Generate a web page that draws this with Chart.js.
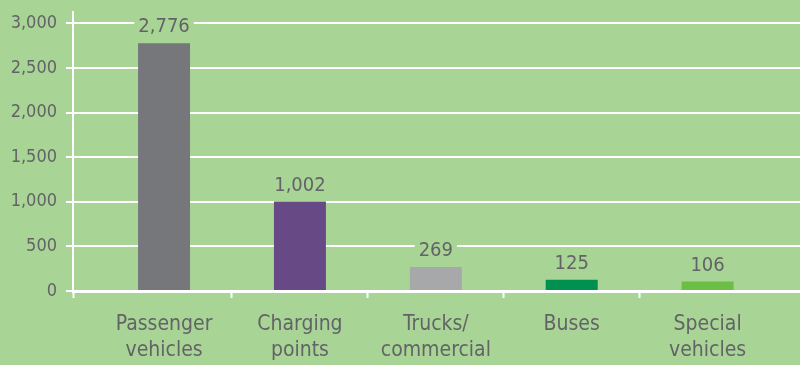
<!DOCTYPE html>
<html>
<head>
<meta charset="utf-8">
<style>
  html, body { margin: 0; padding: 0; background: #a8d596; }
  #wrap { width: 800px; height: 365px; }
</style>
<script src="https://cdn.jsdelivr.net/npm/chart.js@4/dist/chart.umd.min.js"></script>
</head>
<body>
<div id="wrap"><canvas id="c" width="800" height="365"></canvas></div>
<script>
// Vehicle counts by type
const categories = [
  ['Passenger', 'vehicles'],
  ['Charging', 'points'],
  ['Trucks/', 'commercial'],
  ['Buses'],
  ['Special', 'vehicles']
];
const counts = [2776, 1002, 269, 125, 106];
const barColors = ['#76777b', '#674a85', '#a7a8aa', '#009150', '#6dbe45'];
const yTicks = [0, 500, 1000, 1500, 2000, 2500, 3000];

const BG = '#a8d596';
const TEXT = '#636367';
const FONT = "'DejaVu Sans Condensed', 'Liberation Sans Narrow', sans-serif";

// Bars sit on integer positions of a linear x scale; divider marks go halfway between.
const points = counts.map((v, i) => ({ x: i, y: v }));
const xMin = -0.67, xMax = 4.68;
const xTickValues = [xMin];
categories.forEach((_, i) => { xTickValues.push(i); if (i < categories.length - 1) xTickValues.push(i + 0.5); });

const fmt = n => n.toLocaleString('en-US');

// Value labels above bars, on a background-coloured patch that breaks the grid line
const valueLabels = {
  id: 'valueLabels',
  afterDatasetsDraw(chart) {
    const ctx = chart.ctx;
    const meta = chart.getDatasetMeta(0);
    ctx.save();
    ctx.font = "20px " + FONT;
    ctx.textAlign = 'center';
    ctx.textBaseline = 'alphabetic';
    meta.data.forEach((bar, i) => {
      const txt = fmt(counts[i]);
      const w = ctx.measureText(txt).width;
      const base = bar.y - 11;
      ctx.fillStyle = BG;
      ctx.fillRect(bar.x - w / 2 - 4, base - 18, w + 8, 22);
      ctx.fillStyle = TEXT;
      ctx.fillText(txt, bar.x, base);
    });
    ctx.restore();
  }
};

new Chart(document.getElementById('c'), {
  type: 'bar',
  data: {
    datasets: [{
      data: points,
      backgroundColor: barColors,
      borderWidth: 0,
      barPercentage: 0.765,
      categoryPercentage: 1
    }]
  },
  options: {
    responsive: false,
    animation: false,
    events: [],
    layout: { padding: { top: 1, right: 0, left: 0, bottom: 0 } },
    plugins: { legend: { display: false }, tooltip: { enabled: false } },
    scales: {
      x: {
        type: 'linear',
        offset: false,
        min: xMin,
        max: xMax,
        afterBuildTicks: s => { s.ticks = xTickValues.map(v => ({ value: v })); },
        afterFit: s => { s.height = 74; },
        border: { display: true, color: '#ffffff', width: 3 },
        grid: {
          offset: false,
          drawOnChartArea: false,
          drawTicks: true,
          tickLength: 7,
          tickWidth: 2,
          tickColor: c => (Number.isInteger(c.tick && c.tick.value) ? 'rgba(0,0,0,0)' : '#ffffff')
        },
        ticks: {
          autoSkip: false,
          maxRotation: 0,
          minRotation: 0,
          padding: 14,
          color: TEXT,
          font: { family: FONT, size: 21, lineHeight: 1.22 },
          callback: v => (Number.isInteger(v) ? categories[v] : '')
        }
      },
      y: {
        min: 0,
        max: 3130,
        afterBuildTicks: s => { s.ticks = yTicks.map(v => ({ value: v })); },
        afterFit: s => { s.width = 73; },
        border: { display: true, color: '#ffffff', width: 2 },
        grid: {
          color: '#ffffff',
          lineWidth: 2,
          drawTicks: true,
          tickLength: 7,
          tickColor: '#ffffff'
        },
        ticks: {
          padding: 9,
          color: TEXT,
          font: { family: FONT, size: 18, lineHeight: 0.3 },
          callback: v => fmt(v)
        }
      }
    }
  },
  plugins: [valueLabels]
});
</script>
</body>
</html>
